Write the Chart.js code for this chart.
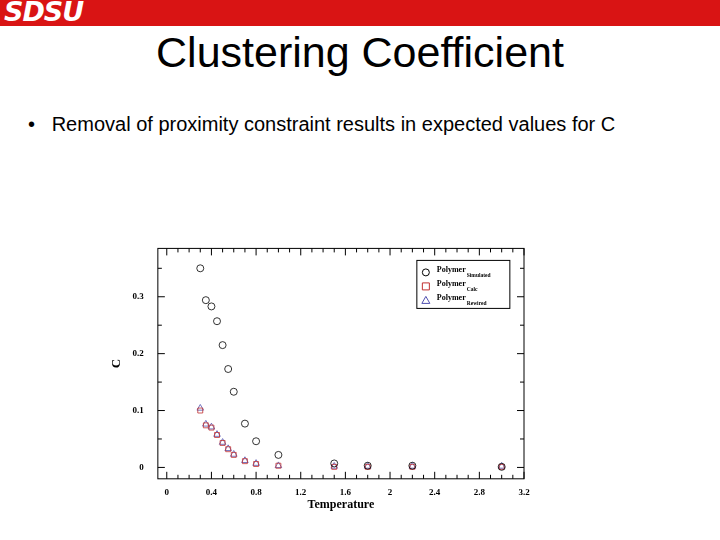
<!DOCTYPE html>
<html><head><meta charset="utf-8">
<script src="https://cdn.jsdelivr.net/npm/chart.js@4/dist/chart.umd.min.js"></script>
<style>
body{margin:0;width:720px;height:540px;background:#fff;position:relative;overflow:hidden;font-family:"Liberation Sans",Arial,sans-serif}
#bar{position:absolute;left:0;top:0;width:720px;height:26px;background:#d91414}
#logo{position:absolute;left:4px;top:-4px;color:#fff;font:italic bold 27px "DejaVu Sans";letter-spacing:-1px}
#title{position:absolute;top:28px;width:720px;text-align:center;font-size:43px;left:0}
#bullet{position:absolute;top:113px;left:28px;font-size:20px}
#wrap{position:absolute;left:107px;top:237px;width:430px;height:275px}
</style></head><body>
<div id="bar"><div id="logo">SDSU</div></div>
<div id="title">Clustering Coefficient</div>
<div id="bullet">•&nbsp;&nbsp; Removal of proximity constraint results in expected values for C</div>
<div id="wrap"><canvas id="c"></canvas></div>
<script>
const temps = [0.3, 0.35, 0.4, 0.45, 0.5, 0.55, 0.6, 0.7, 0.8, 1.0, 1.5, 1.8, 2.2, 3.0];
const simulated = [0.35, 0.294, 0.283, 0.257, 0.215, 0.173, 0.133, 0.077, 0.046, 0.022, 0.007, 0.003, 0.003, 0.001];
const calc = [0.100, 0.074, 0.070, 0.057, 0.043, 0.032, 0.022, 0.011, 0.006, 0.003, 0.001, 0.001, 0.001, 0.001];
const rewired = [0.104, 0.076, 0.071, 0.058, 0.044, 0.033, 0.023, 0.012, 0.007, 0.003, 0.002, 0.002, 0.002, 0.002];
const xTicks = [0, 0.4, 0.8, 1.2, 1.6, 2, 2.4, 2.8, 3.2];
const yTicks = [0, 0.1, 0.2, 0.3];

const pts = arr => temps.map((t, i) => ({ x: t, y: arr[i] }));
const serif = "Liberation Serif";

const frame = {
    id: 'frame',
    afterDraw(chart) {
        const { ctx, chartArea: a, scales: { x, y } } = chart;
        ctx.save();
        ctx.strokeStyle = '#000';
        ctx.lineWidth = 1;
        ctx.strokeRect(a.left, a.top, a.right - a.left, a.bottom - a.top);
        // ticks on all four sides, minor every 0.1 / 0.05
        ctx.beginPath();
        for (let v = 0; v <= 3.2001; v += 0.1) {
            const px = x.getPixelForValue(v);
            const major = Math.abs(v / 0.4 - Math.round(v / 0.4)) < 1e-6;
            const l = major ? 7 : 4;
            ctx.moveTo(px, a.bottom); ctx.lineTo(px, a.bottom - l);
            ctx.moveTo(px, a.top); ctx.lineTo(px, a.top + l);
        }
        for (let v = 0; v <= 0.3801; v += 0.05) {
            const py = y.getPixelForValue(v);
            const major = Math.abs(v / 0.1 - Math.round(v / 0.1)) < 1e-6;
            const l = major ? 7 : 4;
            ctx.moveTo(a.left, py); ctx.lineTo(a.left + l, py);
            ctx.moveTo(a.right, py); ctx.lineTo(a.right - l, py);
        }
        ctx.stroke();
        // legend with subscripts
        const lx = a.left + 268, ly = a.top + 24, w = 93, h = 44;
        ctx.strokeRect(lx - 9, ly - 12, w, h + 4);
        const rows = [['Simulated', 'circle', '#000'], ['Calc', 'rect', '#c03030'], ['Rewired', 'triangle', '#5050b0']];
        rows.forEach((r, i) => {
            const yy = ly + i * 14;
            ctx.strokeStyle = r[2];
            ctx.beginPath();
            if (r[1] === 'circle') ctx.arc(lx, yy, 3.5, 0, Math.PI * 2);
            else if (r[1] === 'rect') ctx.rect(lx - 3.5, yy - 3.5, 7, 7);
            else { ctx.moveTo(lx, yy - 4); ctx.lineTo(lx + 4, yy + 3); ctx.lineTo(lx - 4, yy + 3); ctx.closePath(); }
            ctx.stroke();
            ctx.fillStyle = '#000';
            ctx.font = 'bold 8px ' + serif;
            ctx.textBaseline = 'middle';
            ctx.fillText('Polymer', lx + 11, yy - 2);
            const pw = ctx.measureText('Polymer').width;
            ctx.font = 'bold 5.5px ' + serif;
            ctx.fillText(r[0], lx + 12 + pw, yy + 3);
        });
        ctx.restore();
    }
};

new Chart(document.getElementById('c'), {
    type: 'scatter',
    data: {
        datasets: [
            { data: pts(simulated), pointStyle: 'circle', radius: 3.5, borderColor: '#000', backgroundColor: 'transparent', borderWidth: 0.8 },
            { data: pts(calc), pointStyle: 'rect', radius: 3.5, borderColor: '#c03030', backgroundColor: 'transparent', borderWidth: 0.8 },
            { data: pts(rewired), pointStyle: 'triangle', radius: 3.8, borderColor: '#5050b0', backgroundColor: 'transparent', borderWidth: 0.8 }
        ]
    },
    options: {
        responsive: true,
        maintainAspectRatio: false,
        animation: false,
        layout: { padding: { left: 0, right: 13, top: 8, bottom: 0 } },
        plugins: { legend: { display: false }, tooltip: { enabled: false } },
        scales: {
            x: {
                type: 'linear', min: -0.08, max: 3.2,
                afterBuildTicks: s => { s.ticks = xTicks.map(v => ({ value: v })); },
                grid: { display: false }, border: { display: false },
                ticks: { font: { family: serif, size: 9, weight: 'bold' }, color: '#000', padding: 0, maxRotation: 0, callback: v => String(v) },
                title: { display: true, text: 'Temperature', font: { family: serif, size: 12, weight: 'bold' }, color: '#000', padding: { top: 0, bottom: 0 } }
            },
            y: {
                type: 'linear', min: -0.02, max: 0.385,
                afterBuildTicks: s => { s.ticks = yTicks.map(v => ({ value: v })); },
                grid: { display: false }, border: { display: false },
                ticks: { font: { family: serif, size: 9, weight: 'bold' }, color: '#000', padding: 6, callback: v => String(v) },
                title: { display: true, text: 'C', font: { family: serif, size: 13, weight: 'bold' }, color: '#000', padding: 2 }
            }
        }
    },
    plugins: [frame]
});
</script>
</body></html>
